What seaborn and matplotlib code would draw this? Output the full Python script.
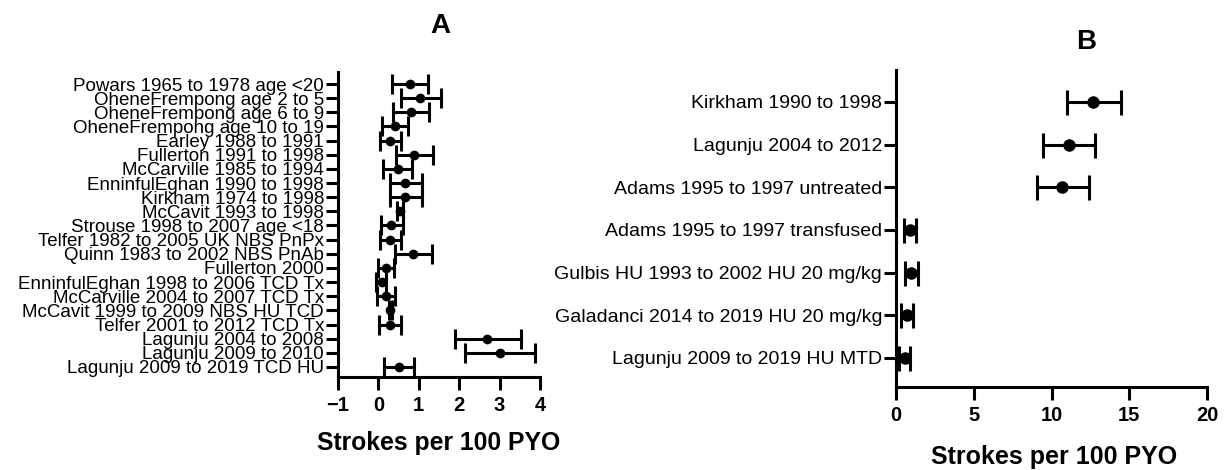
import numpy as np
import pandas as pd
import matplotlib
matplotlib.use("Agg")
import matplotlib.pyplot as plt
import seaborn as sns

# Panel A: stroke rates per study (estimate and 95% CI)
labels_a = [
    "Powars 1965 to 1978 age <20",
    "OheneFrempong age 2 to 5",
    "OheneFrempong age 6 to 9",
    "OheneFrempong age 10 to 19",
    "Earley 1988 to 1991",
    "Fullerton 1991 to 1998",
    "McCarville 1985 to 1994",
    "EnninfulEghan 1990 to 1998",
    "Kirkham 1974 to 1998",
    "McCavit 1993 to 1998",
    "Strouse 1998 to 2007 age <18",
    "Telfer 1982 to 2005 UK NBS PnPx",
    "Quinn 1983 to 2002 NBS PnAb",
    "Fullerton 2000",
    "EnninfulEghan 1998 to 2006 TCD Tx",
    "McCarville 2004 to 2007 TCD Tx",
    "McCavit 1999 to 2009 NBS HU TCD",
    "Telfer 2001 to 2012 TCD Tx",
    "Lagunju 2004 to 2008",
    "Lagunju 2009 to 2010",
    "Lagunju 2009 to 2019 TCD HU",
]
est_a = [0.79, 1.04, 0.80, 0.42, 0.29, 0.88, 0.48, 0.67, 0.67, 0.53, 0.31,
         0.28, 0.86, 0.19, 0.08, 0.19, 0.29, 0.29, 2.70, 3.00, 0.52]
lo_a = [0.33, 0.55, 0.36, 0.09, 0.03, 0.43, 0.12, 0.28, 0.28, 0.45, 0.06,
        0.03, 0.41, -0.02, -0.06, -0.03, 0.25, 0.01, 1.90, 2.15, 0.15]
hi_a = [1.22, 1.54, 1.25, 0.74, 0.57, 1.35, 0.83, 1.09, 1.09, 0.60, 0.60,
        0.56, 1.33, 0.39, 0.20, 0.40, 0.33, 0.57, 3.52, 3.87, 0.88]

# Panel B
labels_b = [
    "Kirkham 1990 to 1998",
    "Lagunju 2004 to 2012",
    "Adams 1995 to 1997 untreated",
    "Adams 1995 to 1997 transfused",
    "Gulbis HU 1993 to 2002 HU 20 mg/kg",
    "Galadanci 2014 to 2019 HU 20 mg/kg",
    "Lagunju 2009 to 2019 HU MTD",
]
est_b = [12.7, 11.1, 10.7, 0.9, 0.95, 0.7, 0.55]
lo_b = [11.0, 9.45, 9.05, 0.5, 0.6, 0.35, 0.2]
hi_b = [14.5, 12.8, 12.4, 1.3, 1.4, 1.1, 0.9]

sns.set_theme(style="ticks")
plt.rcParams["font.family"] = ["Liberation Sans", "DejaVu Sans"]
plt.rcParams.update({"text.color": "black", "axes.labelcolor": "black",
                     "xtick.color": "black", "ytick.color": "black",
                     "axes.edgecolor": "black"})

W, H = 1224, 470
fig = plt.figure(figsize=(W / 100, H / 100), dpi=100)
# axes boxes from pixel edges: left, right, top, bottom
ax_a = fig.add_axes([338 / W, 1 - 377 / H, (540 - 338) / W, (377 - 72) / H])
ax_b = fig.add_axes([896 / W, 1 - 387 / H, (1207 - 896) / W, (387 - 70) / H])


def forest(ax, labels, est, lo, hi, ms, cap, lab_size, xlim, xticks, pad_top, pad_bot):
    df = pd.DataFrame({"study": labels, "rate": est,
                       "lo": np.array(est) - np.array(lo),
                       "hi": np.array(hi) - np.array(est)})
    ax.errorbar(df["rate"], df["study"], xerr=[df["lo"], df["hi"]], fmt="none",
                ecolor="black", elinewidth=2.2, capsize=cap, capthick=2.2, zorder=2)
    sns.scatterplot(data=df, x="rate", y="study", ax=ax, color="black", s=ms ** 2,
                    edgecolor="black", linewidth=0, zorder=3)
    n = len(labels)
    ax.set_ylim(n - 1 + pad_bot, -pad_top)
    ax.set_xlim(*xlim)
    ax.set_xticks(xticks)
    ax.set_xticklabels(["\u2212" + str(-t) if t < 0 else str(t) for t in xticks],
                       fontweight="bold", fontsize=14.5)
    ax.tick_params(axis="y", labelsize=lab_size, length=9, width=2.2, pad=1)
    ax.tick_params(axis="x", length=9, width=2.2, pad=5)
    ax.set_ylabel("")
    ax.set_xlabel("")
    for s in ["top", "right"]:
        ax.spines[s].set_visible(False)
    for s in ["left", "bottom"]:
        ax.spines[s].set_linewidth(2.2)


forest(ax_a, labels_a, est_a, lo_a, hi_a, 7, 7, 13.5, (-1, 4), [-1, 0, 1, 2, 3, 4], 0.85, 0.71)
forest(ax_b, labels_b, est_b, lo_b, hi_b, 9, 9, 14, (0, 20), [0, 5, 10, 15, 20], 0.75, 0.68)

fig.text(440 / W, 1 - 26 / H, "A", ha="center", va="center", fontsize=20, fontweight="bold")
fig.text(1086 / W, 1 - 42 / H, "B", ha="center", va="center", fontsize=20, fontweight="bold")
fig.text(439 / W, 1 - 443 / H, "Strokes per 100 PYO", ha="center", va="center",
         fontsize=17.8, fontweight="bold")
fig.text(1054 / W, 1 - 457 / H, "Strokes per 100 PYO", ha="center", va="center",
         fontsize=18, fontweight="bold")

fig.savefig("out.png", dpi=100, facecolor="white")
